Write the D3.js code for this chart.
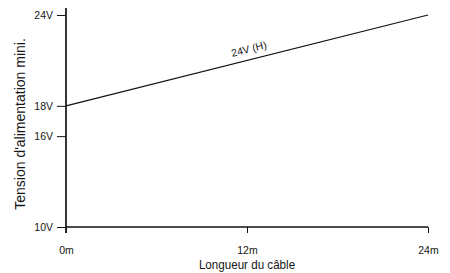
<!DOCTYPE html>
<html><head><meta charset="utf-8">
<script src="https://cdn.jsdelivr.net/npm/d3@7"></script>
<style>body{margin:0;background:#fff}svg{display:block}text{font-family:"Liberation Sans",Arial,sans-serif;fill:#161616}</style>
</head><body><svg id="c" width="450" height="273"></svg>
<script>
const lengths = [0, 24];
const voltages = [18, 24];
const seriesLabel = "24V (H)";
const yTicks = [10, 16, 18, 24];
const yTickLabels = ["10V", "16V", "18V", "24V"];
const xTicks = [0, 12, 24];
const xTickLabels = ["0m", "12m", "24m"];
const xTitle = "Longueur du câble";
const yTitle = "Tension d'alimentation mini.";

const FONT = '"Liberation Sans",Arial,sans-serif';
const svg = d3.select("#c");
const x = d3.scaleLinear().domain([0, 24]).range([66, 428]);
const y = d3.scaleLinear().domain([10, 24]).range([227, 15]);

// y axis
const yAxis = svg.append("g").attr("transform", `translate(${x(0)},0)`)
  .call(d3.axisLeft(y).tickValues(yTicks).tickFormat((d,i)=>yTickLabels[i]).tickSize(9).tickSizeOuter(0));
yAxis.select(".domain").remove();
yAxis.append("line").attr("x1",0).attr("x2",0).attr("y1",8).attr("y2",233).attr("stroke","#111").attr("stroke-width",1.7);
yAxis.selectAll(".tick line").attr("stroke","#111").attr("stroke-width",1);
yAxis.selectAll(".tick text").attr("x",-13).attr("font-size",10.5).style("font-family",FONT).attr("fill","#161616");

// x axis
const xAxis = svg.append("g").attr("transform", `translate(0,${y(10)})`)
  .call(d3.axisBottom(x).tickValues(xTicks).tickFormat((d,i)=>xTickLabels[i]).tickSize(6).tickSizeOuter(0));
xAxis.select(".domain").remove();
xAxis.append("line").attr("x1",x(0)).attr("x2",x(24)).attr("y1",0).attr("y2",0).attr("stroke","#111").attr("stroke-width",1.7);
xAxis.selectAll(".tick line").attr("stroke","#111").attr("stroke-width",1);
xAxis.selectAll(".tick text").attr("y",20).attr("font-size",10.5).style("font-family",FONT).attr("fill","#161616");

// line
const pts = lengths.map((l,i)=>[l, voltages[i]]);
svg.append("path").datum(pts)
  .attr("d", d3.line().x(d=>x(d[0])).y(d=>y(d[1])))
  .attr("fill","none").attr("stroke","#111").attr("stroke-width",1.1);

// series label
const lx = 12.3, ly = voltages[0] + (voltages[1]-voltages[0])*lx/24;
const ang = Math.atan2(y(voltages[0]) - y(voltages[1]), x(24) - x(0)) * 180 / Math.PI;
svg.append("text").attr("transform", `translate(${x(lx)},${y(ly)}) rotate(${-ang}) translate(0,-7)`)
  .attr("text-anchor","middle").attr("font-size",10.5).text(seriesLabel);

// titles
svg.append("text").attr("transform", `translate(${x(12)},269) scale(0.93,1)`).attr("text-anchor","middle").attr("font-size",12.5).text(xTitle);
svg.append("text").attr("transform", `translate(25,124) rotate(-90)`).attr("text-anchor","middle").attr("font-size",14).text(yTitle);
</script></body></html>
